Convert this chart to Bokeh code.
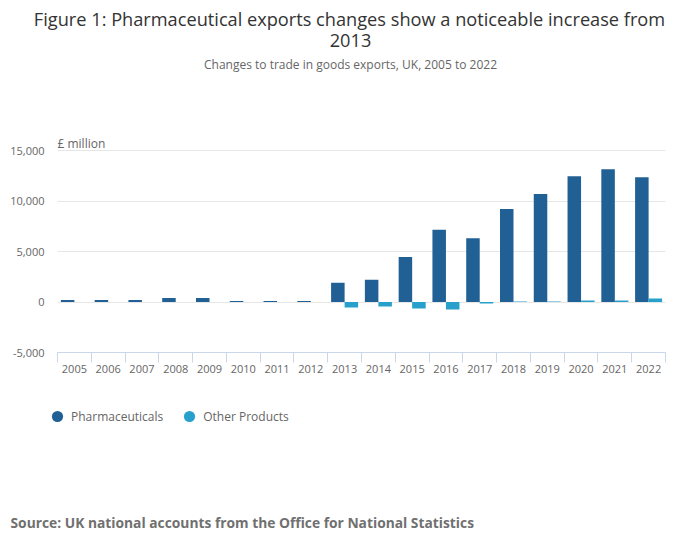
import math
from bokeh.plotting import figure
from bokeh.layouts import column
from bokeh.models import (ColumnDataSource, FactorRange, Range1d, LinearAxis, FixedTicker,
                          NumeralTickFormatter, Label, Legend, LegendItem)
from bokeh.transform import dodge
from bokeh.embed import file_html
from bokeh.resources import INLINE

years = [str(y) for y in range(2005, 2023)]
pharma = [200, 200, 200, 400, 400, 100, 100, 100, 1900, 2200, 4450, 7150, 6300, 9200, 10700, 12450, 13150, 12350]
other = [0, 0, 0, 0, 0, 0, 0, 0, -550, -450, -650, -750, -150, 50, 50, 150, 150, 350]
y_ticks = [-5000, 0, 5000, 10000, 15000]

title_1 = "Figure 1: Pharmaceutical exports changes show a noticeable increase from"
title_2 = "2013"
subtitle = "Changes to trade in goods exports, UK, 2005 to 2022"
unit_label = "£ million"
source_text = "Source: UK national accounts from the Office for National Statistics"
series_names = ["Pharmaceuticals", "Other Products"]

C_PHARMA = "#206095"
C_OTHER = "#27a0cc"
FONT = "Open Sans"

W = 700
TOP_H = 132          # height of the title strip
CHART_BOTTOM = 400   # page y where the chart figure ends
PAGE_H = 548
FL, FR, FT, FB = 57, 665, 150, 352  # plot-area edges in page px
YMIN, YMAX = -5000, 15000
n = len(years)


def strip(height, y0):
    f = figure(width=W, height=height, x_range=Range1d(0, W), y_range=Range1d(y0 + height, y0),
               output_backend="svg", toolbar_location=None, x_axis_location=None,
               y_axis_location=None, min_border=0, frame_align=False)
    f.outline_line_color = None
    f.grid.visible = False
    return f


def page_label(fig, txt, x, y, size, color, align="left", style="normal"):
    fig.add_layout(Label(x=x, y=y, text=txt, text_align=align, text_baseline="middle",
                         text_font=FONT, text_font_size=size, text_color=color,
                         text_font_style=style))


# ---------------- title strip ----------------
ptop = strip(TOP_H, 0)
page_label(ptop, title_1, 349, 18, "18.2px", "#333333", "center")
page_label(ptop, title_2, 350, 40, "18.2px", "#333333", "center")
page_label(ptop, subtitle, 350, 64, "12px", "#666666", "center")

# ---------------- chart ----------------
chart_h = CHART_BOTTOM - TOP_H
units_per_px = (YMAX - YMIN) / (FB - FT)
y_end = YMAX + (FT - TOP_H) * units_per_px   # room above the 15,000 line for the unit label

src = ColumnDataSource(dict(year=years, pharma=pharma, other=other))

p = figure(width=W, height=chart_h, x_range=FactorRange(*years), y_range=Range1d(YMIN, y_end),
           output_backend="svg", toolbar_location=None, x_axis_location=None,
           y_axis_location=None, min_border_left=FL, min_border_right=W - FR,
           min_border_top=0, min_border_bottom=CHART_BOTTOM - FB, frame_align=False)
p.outline_line_color = None

xaxis = LinearAxis(ticker=FixedTicker(ticks=[i + 0.5 for i in range(n)], minor_ticks=list(range(n + 1))),
                   major_label_overrides={i + 0.5: years[i] for i in range(n)})
xaxis.axis_line_color = "#ccd6eb"
xaxis.major_tick_line_color = None
xaxis.major_tick_out = 0
xaxis.major_tick_in = 0
xaxis.minor_tick_line_color = "#ccd6eb"
xaxis.minor_tick_out = 10
xaxis.minor_tick_in = 0
xaxis.major_label_standoff = 2
xaxis.major_label_text_font = FONT
xaxis.major_label_text_font_size = "11px"
xaxis.major_label_text_color = "#666666"
p.add_layout(xaxis, "below")

yaxis = LinearAxis(ticker=FixedTicker(ticks=y_ticks), formatter=NumeralTickFormatter(format="0,0"))
yaxis.axis_line_color = None
yaxis.major_tick_line_color = None
yaxis.minor_tick_line_color = None
yaxis.major_tick_out = 0
yaxis.major_label_standoff = 13
yaxis.major_label_text_font = FONT
yaxis.major_label_text_font_size = "11px"
yaxis.major_label_text_color = "#666666"
p.add_layout(yaxis, "left")

p.xgrid.visible = False
p.ygrid.grid_line_color = "#e6e6e6"
p.ygrid.ticker = FixedTicker(ticks=y_ticks)

p.vbar(x=dodge("year", -0.2, range=p.x_range), top="pharma", width=0.4, source=src,
       fill_color=C_PHARMA, line_color=None)
p.vbar(x=dodge("year", 0.2, range=p.x_range), top="other", width=0.4, source=src,
       fill_color=C_OTHER, line_color=None)

p.add_layout(Label(x=0, y=YMAX + (FT - 143) * units_per_px, text=unit_label, text_align="left",
                   text_baseline="middle", text_font=FONT, text_font_size="12px",
                   text_color="#666666"))

# ---------------- legend + source strip ----------------
bot_h = PAGE_H - CHART_BOTTOM
pbot = strip(bot_h, CHART_BOTTOM)

r1 = pbot.scatter(x=[0], y=[math.nan], marker="circle", fill_color=C_PHARMA, line_color=None)
r2 = pbot.scatter(x=[0], y=[math.nan], marker="circle", fill_color=C_OTHER, line_color=None)
legend = Legend(items=[LegendItem(label=series_names[0], renderers=[r1]),
                       LegendItem(label=series_names[1], renderers=[r2])],
                orientation="horizontal", location=(43, PAGE_H - 430),
                glyph_width=28, glyph_height=28, label_standoff=0, spacing=12,
                padding=0, margin=0, border_line_color=None, background_fill_alpha=0,
                label_text_font=FONT, label_text_font_size="12px", label_text_color="#666666")
pbot.add_layout(legend, "center")

page_label(pbot, source_text, 10, 522, "13.8px", "#707070", "left", "bold")

layout = column(ptop, p, pbot, spacing=0)
open("out.html", "w").write(file_html(layout, INLINE))
